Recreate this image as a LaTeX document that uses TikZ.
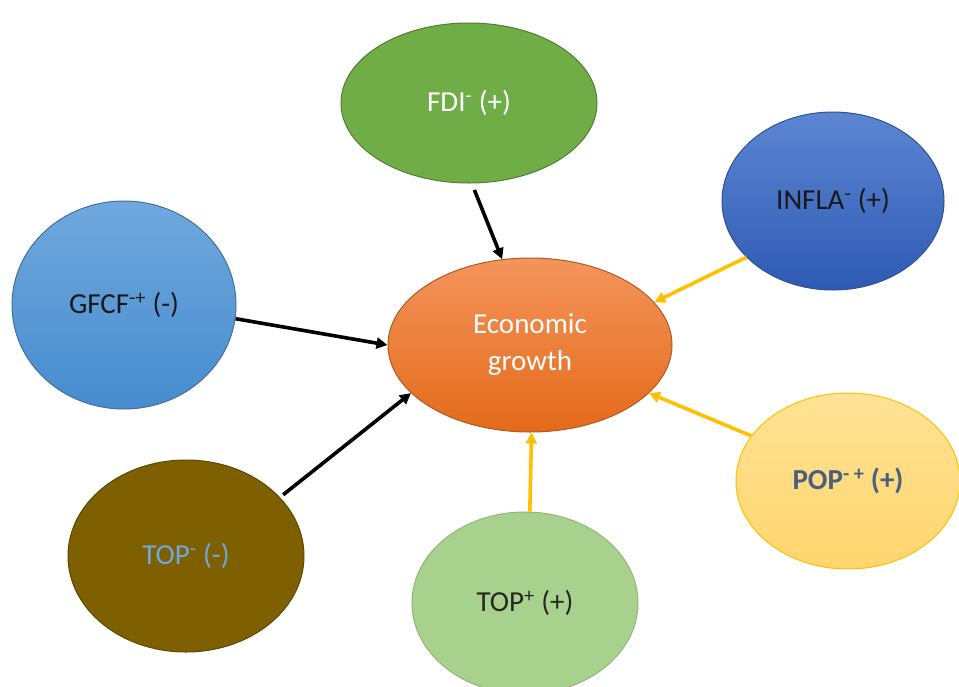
\documentclass[tikz,border=0pt]{standalone}
\usepackage{fontspec}
\setmainfont{Carlito}
\usetikzlibrary{arrows.meta,shapes.geometric}
\definecolor{arrY}{HTML}{FFC000}
\definecolor{fdiF}{HTML}{70AD47}\definecolor{fdiD}{HTML}{507E32}
\definecolor{infT}{HTML}{5C86D2}\definecolor{infB}{HTML}{2F5AB4}\definecolor{infD}{HTML}{2F528F}
\definecolor{gfT}{HTML}{70A8DE}\definecolor{gfB}{HTML}{468CCE}\definecolor{gfD}{HTML}{41719C}
\definecolor{egT}{HTML}{F4945C}\definecolor{egB}{HTML}{E46A1A}\definecolor{egD}{HTML}{AE5A21}
\definecolor{tmF}{HTML}{7F6000}\definecolor{tmD}{HTML}{5E4700}
\definecolor{tpF}{HTML}{A9D18E}\definecolor{tpD}{HTML}{8FB873}
\definecolor{ppT}{HTML}{FFE296}\definecolor{ppB}{HTML}{FFD66E}
\definecolor{ppTxt}{HTML}{4A5F80}
\definecolor{tmTxt}{HTML}{6FA8DC}
\tikzset{
  bub/.style={ellipse, draw, line width=1pt, inner sep=0pt, font=\fontsize{29}{37}\selectfont},
  blk/.style={line width=3.6pt, draw=black, -{Triangle[length=11pt,width=11pt]}},
  yel/.style={line width=3.6pt, draw=arrY, -{Triangle[length=11pt,width=11pt]}},
}
\begin{document}
\begin{tikzpicture}[x=1pt,y=-1pt]
\useasboundingbox (0,0) rectangle (959,686);
\fill[white] (0,0) rectangle (959,686);
\node[bub, minimum width=256pt, minimum height=160pt, fill=fdiF, draw=fdiD, text=white] (fdi) at (469,103) {FDI\textsuperscript{-} (+)};
\node[bub, minimum width=222pt, minimum height=178pt, draw=infD, top color=infT, bottom color=infB, text=black!90] (infla) at (833,201) {INFLA\textsuperscript{-} (+)};
\node[bub, minimum width=224pt, minimum height=208pt, draw=gfD, top color=gfT, bottom color=gfB, text=black!90] (gfcf) at (124,305) {GFCF\textsuperscript{-+} (-)};
\node[bub, minimum width=284pt, minimum height=174pt, align=center, draw=egD, top color=egT, bottom color=egB, text=white] (eg) at (530,345) {Economic\\growth};
\node[bub, minimum width=236pt, minimum height=192pt, draw=tmD, fill=tmF, text=tmTxt] (topm) at (186,556) {TOP\textsuperscript{-} (-)};
\node[bub, minimum width=226pt, minimum height=182pt, draw=tpD, fill=tpF, text=black!85] (topp) at (525,603) {TOP\textsuperscript{+} (+)};
\node[bub, minimum width=224pt, minimum height=176pt, draw=arrY, top color=ppT, bottom color=ppB, text=ppTxt] (pop) at (848,481) {\textbf{POP\textsuperscript{- +} (+)}};
\draw[blk, shorten <=7pt] (fdi.-88) -- (eg.108);
\draw[blk] (gfcf.-7) -- (eg.180);
\draw[blk, shorten <=4pt] (topm.32) -- (eg.202);
\draw[yel] (infla.213) -- (eg.19);
\draw[yel] (pop.155) -- (eg.-22);
\draw[yel] (topp.87) -- (eg.-89);
\end{tikzpicture}
\end{document}
